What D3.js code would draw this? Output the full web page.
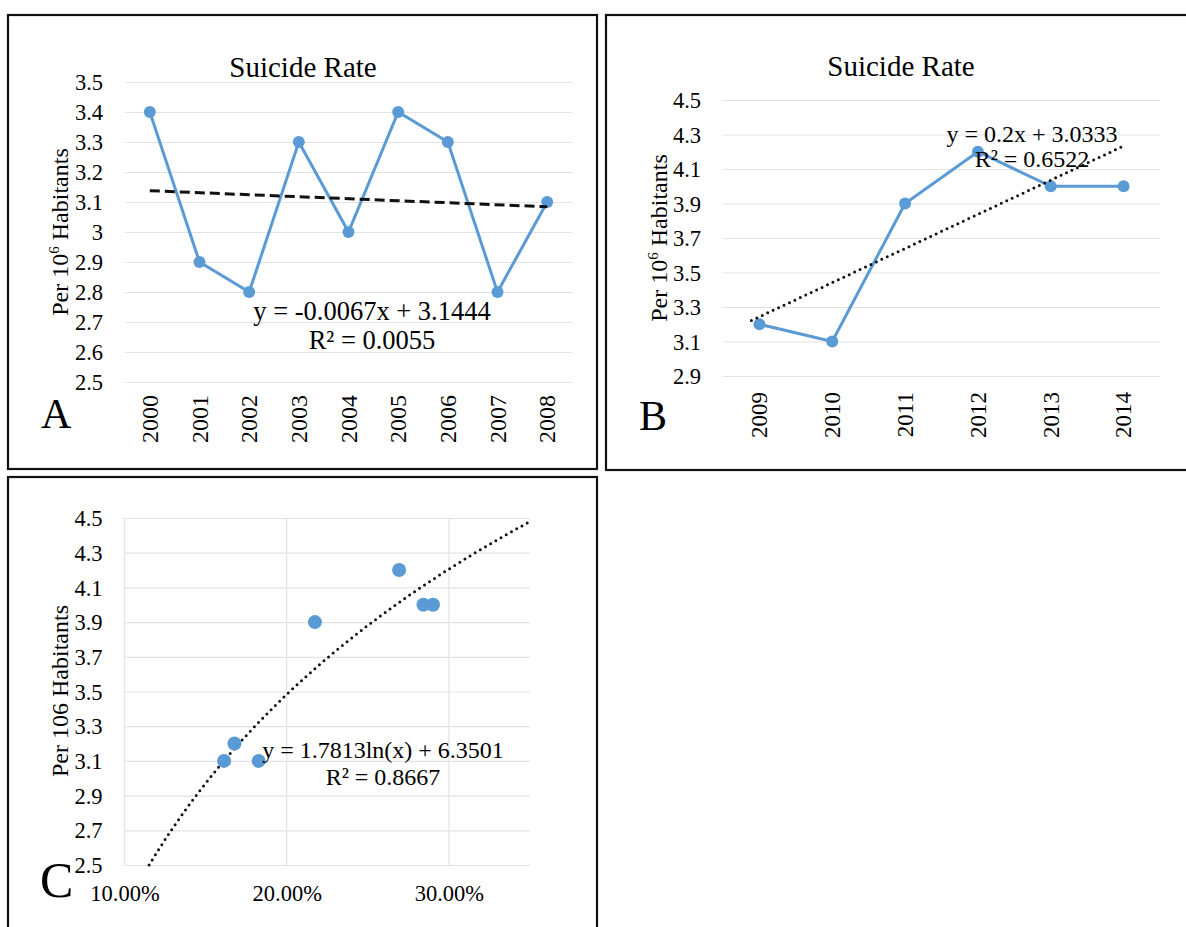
<!DOCTYPE html>
<html>
<head>
<meta charset="utf-8">
<script src="https://cdn.jsdelivr.net/npm/d3@7"></script>
<style>
  body { margin: 0; background: #fff; }
  svg text { font-family: "Liberation Serif", "Times New Roman", serif; fill: #000; }
</style>
</head>
<body>
<div id="chart"></div>
<script>
// panel A: 2000-2008
const yearsA = ["2000","2001","2002","2003","2004","2005","2006","2007","2008"];
const rateA = [3.4, 2.9, 2.8, 3.3, 3.0, 3.4, 3.3, 2.8, 3.1];
const ticksA = [3.5, 3.4, 3.3, 3.2, 3.1, 3.0, 2.9, 2.8, 2.7, 2.6, 2.5];
const trendA = {slope: -0.0067, intercept: 3.1444};

// panel B: 2009-2014
const yearsB = ["2009","2010","2011","2012","2013","2014"];
const rateB = [3.2, 3.1, 3.9, 4.2, 4.0, 4.0];
const ticksB = [4.5, 4.3, 4.1, 3.9, 3.7, 3.5, 3.3, 3.1, 2.9];
const trendB = {slope: 0.2, intercept: 3.0333};

// panel C: rate vs share (log fit)
const shareC = [0.1614, 0.1678, 0.1827, 0.2174, 0.2693, 0.2843, 0.2902];
const rateC = [3.1, 3.2, 3.1, 3.9, 4.2, 4.0, 4.0];
const ticksCy = [4.5, 4.3, 4.1, 3.9, 3.7, 3.5, 3.3, 3.1, 2.9, 2.7, 2.5];
const ticksCx = [0.10, 0.20, 0.30];
const trendC = {a: 1.7813, b: 6.3501};

const W = 1186, H = 927;
const BLUE = "#5b9bd5", GRID = "#e3e3e3";

const svg = d3.select("#chart").append("svg")
    .attr("width", W).attr("height", H);

// frames
const frames = [
  {x: 8, y: 15, w: 589, h: 454},
  {x: 606, y: 15, w: 590, h: 455},
  {x: 8, y: 477, w: 589, h: 460}
];
svg.selectAll("rect.frame").data(frames).join("rect")
    .attr("class", "frame")
    .attr("x", d => d.x).attr("y", d => d.y)
    .attr("width", d => d.w).attr("height", d => d.h)
    .attr("fill", "none").attr("stroke", "#111").attr("stroke-width", 2.2);

function yGrid(g, y, ticks, x0, x1, fmt) {
  const ax = d3.axisLeft(y).tickValues(ticks).tickSize(-(x1 - x0)).tickPadding(22).tickFormat(fmt);
  const a = g.append("g").attr("transform", `translate(${x0},0)`).call(ax);
  a.attr("font-family", null).attr("font-size", null);
  a.select(".domain").remove();
  a.selectAll(".tick line").attr("stroke", GRID).attr("stroke-width", 1.2);
  a.selectAll(".tick text").attr("font-size", 22.5).attr("dy", "0.34em");
  return a;
}

function yLabel(g, x, y, main) {
  const t = g.append("text")
      .attr("transform", `translate(${x},${y}) rotate(-90)`)
      .attr("text-anchor", "middle").attr("font-size", 24);
  if (main) {
    t.append("tspan").text("Per 10");
    t.append("tspan").text("6").attr("font-size", 15).attr("dy", -9);
    t.append("tspan").text(" Habitants").attr("dy", 9);
  } else {
    t.text("Per 106 Habitants");
  }
}

function yearLabels(g, x, years, top, size) {
  g.selectAll("text.year").data(years).join("text")
      .attr("class", "year")
      .attr("transform", d => `translate(${x(d) + x.bandwidth() / 2},${top}) rotate(-90)`)
      .attr("text-anchor", "end").attr("dy", "0.34em")
      .attr("font-size", size)
      .text(d => d);
}

function lineSeries(g, x, y, years, vals) {
  const pts = years.map((d, i) => [x(d) + x.bandwidth() / 2, y(vals[i])]);
  g.append("path").attr("d", d3.line()(pts))
      .attr("fill", "none").attr("stroke", BLUE).attr("stroke-width", 3);
  g.selectAll("circle.pt").data(pts).join("circle")
      .attr("class", "pt").attr("cx", d => d[0]).attr("cy", d => d[1])
      .attr("r", 6).attr("fill", BLUE);
}

function eq(g, cx, y1, y2, l1, l2, size) {
  g.append("text").attr("x", cx).attr("y", y1).attr("text-anchor", "middle")
      .attr("font-size", size).text(l1);
  g.append("text").attr("x", cx).attr("y", y2).attr("text-anchor", "middle")
      .attr("font-size", size).text(l2);
}

// ---------- Panel A ----------
{
  const g = svg.append("g");
  const x = d3.scaleBand().domain(yearsA).range([125, 572]);
  const y = d3.scaleLinear().domain([2.5, 3.5]).range([382, 82]);
  yGrid(g, y, ticksA, 125, 572, d3.format(""));
  g.append("text").attr("x", 303).attr("y", 77).attr("text-anchor", "middle")
      .attr("font-size", 29).text("Suicide Rate");
  yLabel(g, 68, 232, true);
  yearLabels(g, x, yearsA, 395, 24);
  lineSeries(g, x, y, yearsA, rateA);
  const tp = yearsA.map((d, i) => [x(d) + x.bandwidth() / 2, y(trendA.intercept + trendA.slope * (i + 1))]);
  g.append("path").attr("d", d3.line()([tp[0], tp[tp.length - 1]]))
      .attr("stroke", "#111").attr("stroke-width", 3).attr("stroke-dasharray", "10,5");
  eq(g, 372, 320, 349, "y = -0.0067x + 3.1444", "R² = 0.0055", 26.5);
  g.append("text").attr("x", 41).attr("y", 428).attr("font-size", 42).text("A");
}

// ---------- Panel B ----------
{
  const g = svg.append("g");
  const x = d3.scaleBand().domain(yearsB).range([723, 1160]);
  const y = d3.scaleLinear().domain([2.9, 4.5]).range([376, 100]);
  yGrid(g, y, ticksB, 723, 1160, d3.format(".1f"));
  g.append("text").attr("x", 901).attr("y", 76).attr("text-anchor", "middle")
      .attr("font-size", 29).text("Suicide Rate");
  yLabel(g, 667, 238, true);
  yearLabels(g, x, yearsB, 392, 23);
  lineSeries(g, x, y, yearsB, rateB);
  const tp = yearsB.map((d, i) => [x(d) + x.bandwidth() / 2, y(trendB.intercept + trendB.slope * (i + 1))]);
  g.append("path").attr("d", d3.line()([[tp[0][0] - 8, tp[0][1] + 2], tp[tp.length - 1]]))
      .attr("stroke", "#111").attr("stroke-width", 3)
      .attr("stroke-dasharray", "0,6").attr("stroke-linecap", "round");
  eq(g, 1032, 142, 167, "y = 0.2x + 3.0333", "R² = 0.6522", 24);
  g.append("text").attr("x", 639).attr("y", 430).attr("font-size", 42).text("B");
}

// ---------- Panel C ----------
{
  const g = svg.append("g");
  const x = d3.scaleLinear().domain([0.10, 0.35]).range([124.5, 530]);
  const y = d3.scaleLinear().domain([2.5, 4.5]).range([865, 518]);
  g.selectAll("line.vg").data(ticksCx).join("line")
      .attr("class", "vg").attr("x1", d => x(d)).attr("x2", d => x(d))
      .attr("y1", 518).attr("y2", 865).attr("stroke", GRID).attr("stroke-width", 1.2);
  yGrid(g, y, ticksCy, 124.5, 530, d3.format(".1f"));
  const xa = g.append("g").attr("transform", "translate(0,865)")
      .call(d3.axisBottom(x).tickValues(ticksCx).tickSize(0).tickPadding(20).tickFormat(d3.format(".2%")));
  xa.attr("font-family", null).attr("font-size", null);
  xa.select(".domain").remove();
  xa.selectAll("text").attr("font-size", 22.5);
  yLabel(g, 68, 691, false);
  const x0 = Math.exp((2.5 - trendC.b) / trendC.a);
  const curve = d3.range(0, 101).map(i => {
    const v = x0 + (0.35 - x0) * i / 100;
    return [x(v), y(trendC.a * Math.log(v) + trendC.b)];
  });
  g.append("path").attr("d", d3.line()(curve))
      .attr("fill", "none").attr("stroke", "#111").attr("stroke-width", 3)
      .attr("stroke-dasharray", "0,6").attr("stroke-linecap", "round");
  g.selectAll("circle.pt").data(shareC).join("circle")
      .attr("class", "pt").attr("cx", d => x(d)).attr("cy", (d, i) => y(rateC[i]))
      .attr("r", 7).attr("fill", BLUE);
  eq(g, 383, 758, 785, "y = 1.7813ln(x) + 6.3501", "R² = 0.8667", 24);
  g.append("text").attr("x", 40).attr("y", 897).attr("font-size", 50).text("C");
}
</script>
</body>
</html>
